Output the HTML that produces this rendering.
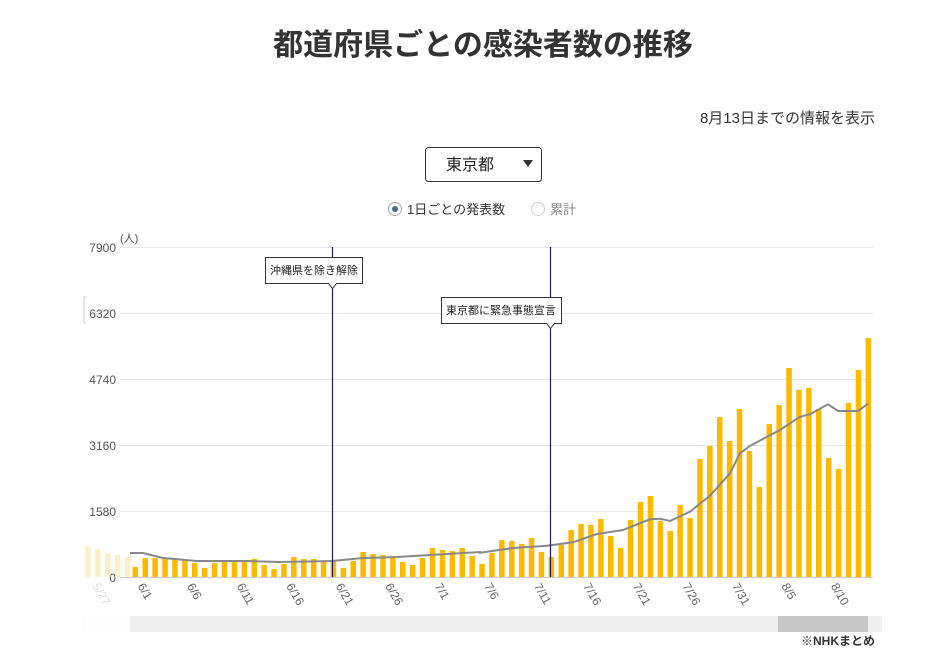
<!DOCTYPE html>
<html><head><meta charset="utf-8"><style>
html,body{margin:0;padding:0;background:#fff;width:947px;height:657px;overflow:hidden}
svg{display:block}
text{font-family:"Liberation Sans","Noto Sans CJK JP",sans-serif}
</style></head><body>
<svg id="s" width="947" height="657" viewBox="0 0 947 657" xmlns="http://www.w3.org/2000/svg">
<text x="483" y="55" text-anchor="middle" font-size="30" font-weight="bold" fill="#333">都道府県ごとの感染者数の推移</text>
<text x="875" y="123" text-anchor="end" font-size="15" fill="#333">8月13日までの情報を表示</text>
<rect x="425.5" y="147.5" width="116" height="34" rx="3" fill="#fff" stroke="#333" stroke-width="1"/>
<text x="470" y="170" text-anchor="middle" font-size="16" fill="#222">東京都</text>
<path d="M523 160 L533 160 L528 167 Z" fill="#333"/>
<circle cx="395" cy="209" r="6.5" fill="#fff" stroke="#aaa"/>
<circle cx="395" cy="209" r="3" fill="#4a6a8a"/>
<text x="407" y="214" font-size="13" fill="#333">1日ごとの発表数</text>
<circle cx="538" cy="209" r="6.5" fill="#fff" stroke="#ccc"/>
<text x="550" y="214" font-size="13" fill="#888">累計</text>
<g id="grid" stroke="#e6e6e6" stroke-width="1">
<line x1="120" y1="247.5" x2="873" y2="247.5"/>
<line x1="120" y1="313.5" x2="873" y2="313.5"/>
<line x1="120" y1="379.5" x2="873" y2="379.5"/>
<line x1="120" y1="445.5" x2="873" y2="445.5"/>
<line x1="120" y1="511.5" x2="873" y2="511.5"/>
</g>
<g font-size="12" fill="#555" text-anchor="end">
<text x="116" y="252">7900</text><text x="116" y="318">6320</text><text x="116" y="384">4740</text><text x="116" y="450">3160</text><text x="116" y="516">1580</text><text x="116" y="582">0</text>
</g>
<text x="120" y="242" font-size="11" fill="#555">(人)</text>
<path d="M86 297 L84 297 L84 323 L86 323" fill="none" stroke="#ccc"/>
<g id="bars"></g>
<line x1="120" y1="577.5" x2="873" y2="577.5" stroke="#ccc"/>
<polyline fill="none" stroke="#888" stroke-width="2" points="130,553 143,553 163,558 197,561 247,561 280,562 332,561 363,558 397,557 430,555 480,552 480,552.7 513,548 547,545.7 573,542.3 597,534 623,530 650,519.3 660,518.7 670,521 690,511.7 710,495.7 730,473.3 740,453.3 750,446 767,436.7 780,430 800,416.7 810,414.3 828,404.3 838,411 858,411 868,403.7"/>
<line x1="332.5" y1="247" x2="332.5" y2="577" stroke="#1a1a6e" stroke-width="1.2"/>
<line x1="550.5" y1="247" x2="550.5" y2="577" stroke="#1a1a6e" stroke-width="1.2"/>
<path d="M265.5 257.5 H362.5 V283.5 H336.5 L332.5 288.5 L328.5 283.5 H265.5 Z" fill="#fff" stroke="#333"/>
<text x="314" y="274" text-anchor="middle" font-size="11" fill="#222">沖縄県を除き解除</text>
<path d="M441.5 297.5 H561.5 V323.5 H554.5 L550.5 328.5 L546.5 323.5 H441.5 Z" fill="#fff" stroke="#333"/>
<text x="501" y="314" text-anchor="middle" font-size="11" fill="#222">東京都に緊急事態宣言</text>
<g font-size="12" fill="#666" id="xl"></g>
<rect x="83" y="616" width="799" height="16" fill="#efefef"/>
<rect x="83" y="616" width="47" height="16" fill="#fdfdfd"/>
<rect x="778" y="616" width="90" height="16" fill="#c8c8c8"/>
<text x="875" y="645" text-anchor="end" font-size="12" font-weight="bold" fill="#333">※NHKまとめ</text>
</svg>
<script>
var h=[10,19,19,19,19,17,14,9,14,17,17,17,18,12,8,13,20,18,18,15,16,9,16,25,23,22,20,15,12,19,29,27,26,29,21,13,24,37,36,33,39,25,20,32,47,53,52,58,41,29,57,75,81,56,46,72,59,118,131,160,136,168,126,90,153,172,209,187,189,168,119,108,174,207,239];
var g=document.getElementById('bars'),s='';
var fad=[31,28,24,22,20];
for(var i=0;i<5;i++){var x=85+i*10;s+='<rect x="'+x+'" y="'+(577-fad[i])+'" width="5.5" height="'+fad[i]+'" fill="#fdf0c8"/>';}
for(var i=0;i<h.length;i++){var x=135.3+i*9.905-2.7;s+='<rect x="'+x.toFixed(1)+'" y="'+(577-h[i])+'" width="5.5" height="'+h[i]+'" fill="#fbb900"/>';}
g.innerHTML=s;
var L=['6/1','6/6','6/11','6/16','6/21','6/26','7/1','7/6','7/11','7/16','7/21','7/26','7/31','8/5','8/10'];
var t='<text transform="translate(92,586) rotate(60)" fill="#ddd">5/27</text>';
for(var i=0;i<L.length;i++){var x=135.3+i*5*9.905+2;t+='<text transform="translate('+x.toFixed(1)+',586) rotate(60)">'+L[i]+'</text>';}
document.getElementById('xl').innerHTML=t;
</script>
</body></html>
